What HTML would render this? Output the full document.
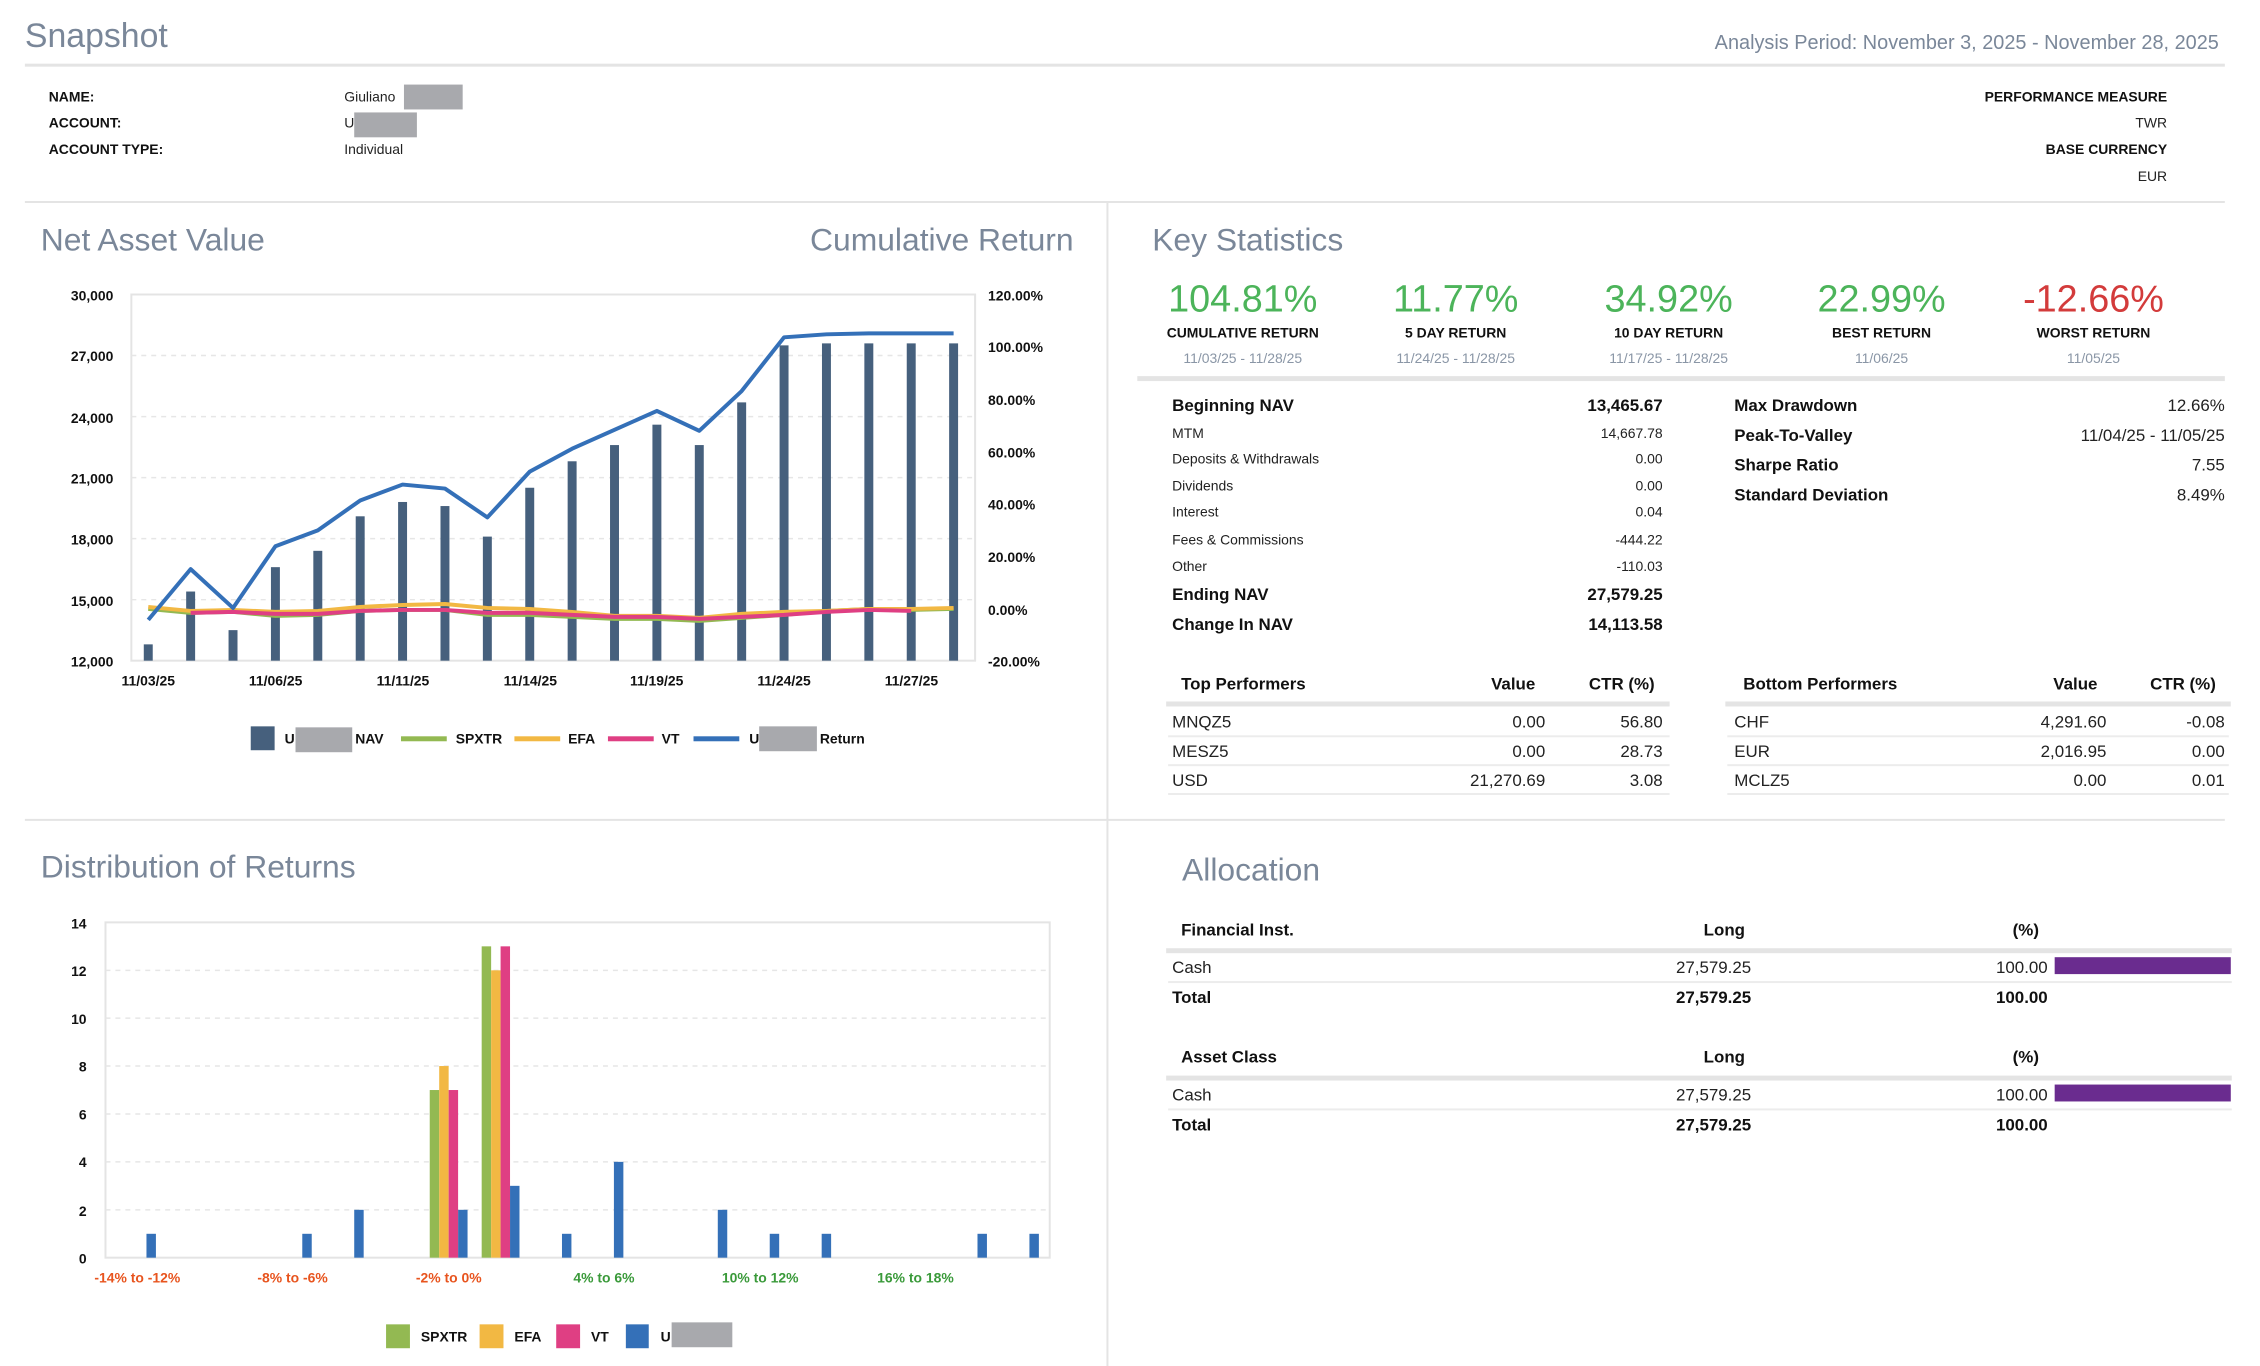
<!DOCTYPE html>
<html><head><meta charset="utf-8"><style>
html,body{margin:0;padding:0;background:#fff;}
svg{display:block;font-family:"Liberation Sans Narrow","Liberation Sans",sans-serif;}
.t{fill:#7a8799;}
.b{font-weight:bold;fill:#111;}
.n{fill:#222;}
</style></head><body>
<svg width="2260" height="1366" viewBox="0 0 2260 1366" xmlns="http://www.w3.org/2000/svg">
<g transform="scale(0.995)">
<!-- header -->
<text x="25" y="47" font-size="34" class="t">Snapshot</text>
<text x="2230" y="49" font-size="20" class="t" text-anchor="end">Analysis Period: November 3, 2025 - November 28, 2025</text>
<rect x="25" y="64" width="2211" height="3" fill="#e4e4e4"/>
<g font-size="14">
<text x="49" y="102" class="b">NAME:</text>
<text x="49" y="128" class="b">ACCOUNT:</text>
<text x="49" y="155" class="b">ACCOUNT TYPE:</text>
<text x="346" y="102" class="n">Giuliano</text>
<text x="346" y="128" class="n">U</text>
<text x="346" y="155" class="n">Individual</text>
<text x="2178" y="102" class="b" text-anchor="end">PERFORMANCE MEASURE</text>
<text x="2178" y="128" class="n" text-anchor="end">TWR</text>
<text x="2178" y="155" class="b" text-anchor="end">BASE CURRENCY</text>
<text x="2178" y="182" class="n" text-anchor="end">EUR</text>
</g>
<rect x="406" y="85" width="59" height="25" fill="#a8a9ad"/>
<rect x="356" y="113" width="63" height="25" fill="#a8a9ad"/>
<rect x="25" y="202" width="2211" height="2" fill="#e4e4e4"/>
<rect x="1112" y="204" width="2" height="1170" fill="#e4e4e4"/>
<rect x="25" y="823" width="2211" height="2" fill="#e4e4e4"/>

<!-- NAV chart -->
<text x="41" y="252" font-size="32" class="t">Net Asset Value</text>
<text x="1079" y="252" font-size="32" class="t" text-anchor="end">Cumulative Return</text>
<rect x="132" y="296" width="848" height="368" fill="none" stroke="#e4e4e4" stroke-width="2"/>
<g stroke="#e6e6e6" stroke-width="1.5" stroke-dasharray="5,5">
<line x1="132" y1="357.3" x2="980" y2="357.3"/><line x1="132" y1="418.7" x2="980" y2="418.7"/><line x1="132" y1="480" x2="980" y2="480"/><line x1="132" y1="541.3" x2="980" y2="541.3"/><line x1="132" y1="602.7" x2="980" y2="602.7"/>
</g>
<g font-size="14" class="b" text-anchor="end">
<text x="114" y="302">30,000</text><text x="114" y="363">27,000</text><text x="114" y="425">24,000</text><text x="114" y="486">21,000</text><text x="114" y="547">18,000</text><text x="114" y="609">15,000</text><text x="114" y="670">12,000</text>
</g>
<g font-size="14" class="b">
<text x="993" y="302">120.00%</text><text x="993" y="354">100.00%</text><text x="993" y="407">80.00%</text><text x="993" y="460">60.00%</text><text x="993" y="512">40.00%</text><text x="993" y="565">20.00%</text><text x="993" y="618">0.00%</text><text x="993" y="670">-20.00%</text>
</g>
<g font-size="14" class="b" text-anchor="middle">
<text x="149" y="689">11/03/25</text><text x="277" y="689">11/06/25</text><text x="405" y="689">11/11/25</text><text x="533" y="689">11/14/25</text><text x="660" y="689">11/19/25</text><text x="788" y="689">11/24/25</text><text x="916" y="689">11/27/25</text>
</g>
<g fill="#46607d">
<rect x="144.5" y="647.6" width="9" height="16.4"/><rect x="187.1" y="594.5" width="9" height="69.5"/><rect x="229.7" y="633.3" width="9" height="30.7"/><rect x="272.3" y="570" width="9" height="94"/><rect x="314.9" y="553.6" width="9" height="110.4"/><rect x="357.5" y="518.9" width="9" height="145.1"/><rect x="400.1" y="504.5" width="9" height="159.5"/><rect x="442.7" y="508.6" width="9" height="155.4"/><rect x="485.3" y="539.3" width="9" height="124.7"/><rect x="527.9" y="490.2" width="9" height="173.8"/><rect x="570.5" y="463.6" width="9" height="200.4"/><rect x="613.1" y="447.3" width="9" height="216.7"/><rect x="655.7" y="426.8" width="9" height="237.2"/><rect x="698.3" y="447.3" width="9" height="216.7"/><rect x="740.9" y="404.4" width="9" height="259.6"/><rect x="783.5" y="347.1" width="9" height="316.9"/><rect x="826.1" y="345.1" width="9" height="318.9"/><rect x="868.7" y="345.1" width="9" height="318.9"/><rect x="911.3" y="345.1" width="9" height="318.9"/><rect x="953.9" y="345.1" width="9" height="318.9"/>
</g>
<g fill="none" stroke-width="4" stroke-linejoin="round">
<polyline stroke="#93b952" points="149,612 191.6,616 234.2,615 276.8,619 319.4,618 362,614 404.6,613 447.2,613 489.8,618 532.4,618 575,620 617.6,622 660.2,622 702.8,624 745.4,621 788,618 830.6,614 873.2,612 915.8,613 958.4,612"/>
<polyline stroke="#f2b843" points="149,610 191.6,614 234.2,613 276.8,615 319.4,614 362,610 404.6,608 447.2,607 489.8,611 532.4,612 575,615 617.6,619 660.2,619 702.8,621 745.4,617 788,615 830.6,614 873.2,612 915.8,612 958.4,611"/>
<polyline stroke="#df3f83" points="191.6,616 234.2,615 276.8,617 319.4,617 362,614 404.6,613 447.2,613 489.8,616 532.4,616 575,618 617.6,620 660.2,620 702.8,622 745.4,620 788,618 830.6,615 873.2,613 915.8,614"/>
<polyline stroke="#3470b8" points="149,623 191.6,572 234.2,611 276.8,549 319.4,533 362,503 404.6,487 447.2,491 489.8,520 532.4,474 575,451 617.6,432 660.2,413 702.8,433 745.4,393 788,339 830.6,336 873.2,335 915.8,335 958.4,335"/>
</g>
<g font-size="14" class="b">
<rect x="252" y="730" width="24" height="24" fill="#46607d"/><text x="286" y="747">U</text><rect x="297" y="731" width="57" height="25" fill="#a8a9ad"/><text x="357" y="747">NAV</text>
<rect x="403" y="740" width="46" height="5" fill="#93b952"/><text x="458" y="747">SPXTR</text>
<rect x="517" y="740" width="46" height="5" fill="#f2b843"/><text x="571" y="747">EFA</text>
<rect x="611" y="740" width="46" height="5" fill="#df3f83"/><text x="665" y="747">VT</text>
<rect x="697" y="740" width="46" height="5" fill="#3470b8"/><text x="753" y="747">U</text><rect x="763" y="730" width="58" height="25" fill="#a8a9ad"/><text x="824" y="747">Return</text>
</g>

<!-- Key statistics -->
<text x="1158" y="252" font-size="32" class="t">Key Statistics</text>
<g font-size="38" text-anchor="middle" fill="#4cb45a">
<text x="1249" y="313">104.81%</text><text x="1463" y="313">11.77%</text><text x="1677" y="313">34.92%</text><text x="1891" y="313">22.99%</text><text x="2104" y="313" fill="#d33b3b">-12.66%</text>
</g>
<g font-size="14" class="b" text-anchor="middle">
<text x="1249" y="339">CUMULATIVE RETURN</text><text x="1463" y="339">5 DAY RETURN</text><text x="1677" y="339">10 DAY RETURN</text><text x="1891" y="339">BEST RETURN</text><text x="2104" y="339">WORST RETURN</text>
</g>
<g font-size="14" fill="#8a96a6" text-anchor="middle">
<text x="1249" y="365">11/03/25 - 11/28/25</text><text x="1463" y="365">11/24/25 - 11/28/25</text><text x="1677" y="365">11/17/25 - 11/28/25</text><text x="1891" y="365">11/06/25</text><text x="2104" y="365">11/05/25</text>
</g>
<rect x="1143" y="378" width="1093" height="5" fill="#e4e4e4"/>
<g font-size="17" class="b"><text x="1178" y="413">Beginning NAV</text><text x="1178" y="603">Ending NAV</text><text x="1178" y="633">Change In NAV</text>
<text x="1743" y="413">Max Drawdown</text><text x="1743" y="443">Peak-To-Valley</text><text x="1743" y="473">Sharpe Ratio</text><text x="1743" y="503">Standard Deviation</text></g>
<g font-size="14" class="n"><text x="1178" y="440">MTM</text><text x="1178" y="466">Deposits &amp; Withdrawals</text><text x="1178" y="493">Dividends</text><text x="1178" y="519">Interest</text><text x="1178" y="547">Fees &amp; Commissions</text><text x="1178" y="574">Other</text></g>
<g font-size="17" class="b" text-anchor="end"><text x="1671" y="413">13,465.67</text><text x="1671" y="603">27,579.25</text><text x="1671" y="633">14,113.58</text></g>
<g font-size="14" class="n" text-anchor="end"><text x="1671" y="440">14,667.78</text><text x="1671" y="466">0.00</text><text x="1671" y="493">0.00</text><text x="1671" y="519">0.04</text><text x="1671" y="547">-444.22</text><text x="1671" y="574">-110.03</text></g>
<g font-size="17" class="n" text-anchor="end"><text x="2236" y="413">12.66%</text><text x="2236" y="443">11/04/25 - 11/05/25</text><text x="2236" y="473">7.55</text><text x="2236" y="503">8.49%</text></g>

<g font-size="17" class="b"><text x="1187" y="693">Top Performers</text><text x="1543" y="693" text-anchor="end">Value</text><text x="1663" y="693" text-anchor="end">CTR (%)</text>
<text x="1752" y="693">Bottom Performers</text><text x="2108" y="693" text-anchor="end">Value</text><text x="2227" y="693" text-anchor="end">CTR (%)</text></g>
<rect x="1172" y="705" width="506" height="5" fill="#e4e4e4"/><rect x="1734" y="705" width="508" height="5" fill="#e4e4e4"/>
<g fill="#ececec"><rect x="1174" y="739" width="504" height="2"/><rect x="1174" y="768" width="504" height="2"/><rect x="1174" y="797" width="504" height="2"/><rect x="1736" y="739" width="504" height="2"/><rect x="1736" y="768" width="504" height="2"/><rect x="1736" y="797" width="504" height="2"/></g>
<g font-size="17" class="n">
<text x="1178" y="731">MNQZ5</text><text x="1178" y="761">MESZ5</text><text x="1178" y="790">USD</text>
<text x="1743" y="731">CHF</text><text x="1743" y="761">EUR</text><text x="1743" y="790">MCLZ5</text>
</g>
<g font-size="17" class="n" text-anchor="end">
<text x="1553" y="731">0.00</text><text x="1553" y="761">0.00</text><text x="1553" y="790">21,270.69</text>
<text x="1671" y="731">56.80</text><text x="1671" y="761">28.73</text><text x="1671" y="790">3.08</text>
<text x="2117" y="731">4,291.60</text><text x="2117" y="761">2,016.95</text><text x="2117" y="790">0.00</text>
<text x="2236" y="731">-0.08</text><text x="2236" y="761">0.00</text><text x="2236" y="790">0.01</text>
</g>

<!-- Distribution -->
<text x="41" y="882" font-size="32" class="t">Distribution of Returns</text>
<rect x="106" y="927" width="949" height="337" fill="none" stroke="#e4e4e4" stroke-width="2"/>
<g stroke="#e6e6e6" stroke-width="1.5" stroke-dasharray="5,5">
<line x1="106" y1="975.2" x2="1055" y2="975.2"/><line x1="106" y1="1023.3" x2="1055" y2="1023.3"/><line x1="106" y1="1071.4" x2="1055" y2="1071.4"/><line x1="106" y1="1119.6" x2="1055" y2="1119.6"/><line x1="106" y1="1167.7" x2="1055" y2="1167.7"/><line x1="106" y1="1215.9" x2="1055" y2="1215.9"/>
</g>
<g font-size="14" class="b" text-anchor="end">
<text x="87" y="933">14</text><text x="87" y="981">12</text><text x="87" y="1029">10</text><text x="87" y="1077">8</text><text x="87" y="1125">6</text><text x="87" y="1173">4</text><text x="87" y="1222">2</text><text x="87" y="1270">0</text>
</g>
<g fill="#3470b8">
<rect x="147.2" y="1240" width="9.5" height="24"/><rect x="303.8" y="1240" width="9.5" height="24"/><rect x="356" y="1215.9" width="9.5" height="48.1"/><rect x="460.4" y="1215.9" width="9.5" height="48.1"/><rect x="512.6" y="1191.8" width="9.5" height="72.2"/><rect x="564.8" y="1240" width="9.5" height="24"/><rect x="617" y="1167.7" width="9.5" height="96.3"/><rect x="721.4" y="1215.9" width="9.5" height="48.1"/><rect x="773.6" y="1240" width="9.5" height="24"/><rect x="825.8" y="1240" width="9.5" height="24"/><rect x="982.4" y="1240" width="9.5" height="24"/><rect x="1034.6" y="1240" width="9.5" height="24"/>
</g>
<rect x="431.9" y="1095.5" width="9.5" height="168.5" fill="#93b952"/><rect x="441.4" y="1071.4" width="9.5" height="192.6" fill="#f2b843"/><rect x="450.9" y="1095.5" width="9.5" height="168.5" fill="#df3f83"/>
<rect x="484.1" y="951.1" width="9.5" height="312.9" fill="#93b952"/><rect x="493.6" y="975.2" width="9.5" height="288.8" fill="#f2b843"/><rect x="503.1" y="951.1" width="9.5" height="312.9" fill="#df3f83"/>
<g font-size="14" font-weight="bold" text-anchor="middle">
<text x="138" y="1289" fill="#e8541e">-14% to -12%</text><text x="294" y="1289" fill="#e8541e">-8% to -6%</text><text x="451" y="1289" fill="#e8541e">-2% to 0%</text>
<text x="607" y="1289" fill="#3a9a3a">4% to 6%</text><text x="764" y="1289" fill="#3a9a3a">10% to 12%</text><text x="920" y="1289" fill="#3a9a3a">16% to 18%</text>
</g>
<g font-size="14" class="b">
<rect x="388" y="1331" width="24" height="24" fill="#93b952"/><text x="423" y="1348">SPXTR</text>
<rect x="482" y="1331" width="24" height="24" fill="#f2b843"/><text x="517" y="1348">EFA</text>
<rect x="559" y="1331" width="24" height="24" fill="#df3f83"/><text x="594" y="1348">VT</text>
<rect x="629" y="1331" width="23" height="24" fill="#3470b8"/><text x="664" y="1348">U</text><rect x="675" y="1329" width="61" height="25" fill="#a8a9ad"/>
</g>

<!-- Allocation -->
<text x="1188" y="885" font-size="32" class="t">Allocation</text>
<g font-size="17" class="b"><text x="1187" y="940">Financial Inst.</text><text x="1733" y="940" text-anchor="middle">Long</text><text x="2036" y="940" text-anchor="middle">(%)</text>
<text x="1187" y="1068">Asset Class</text><text x="1733" y="1068" text-anchor="middle">Long</text><text x="2036" y="1068" text-anchor="middle">(%)</text></g>
<rect x="1172" y="953" width="1071" height="5" fill="#e4e4e4"/><rect x="1172" y="1081" width="1071" height="5" fill="#e4e4e4"/>
<rect x="1174" y="986" width="1069" height="2" fill="#ececec"/><rect x="1174" y="1114" width="1069" height="2" fill="#ececec"/>
<rect x="2065" y="962" width="177" height="17" fill="#6a2c8f"/><rect x="2065" y="1090" width="177" height="17" fill="#6a2c8f"/>
<g font-size="17">
<text x="1178" y="978" class="n">Cash</text><text x="1760" y="978" class="n" text-anchor="end">27,579.25</text><text x="2058" y="978" class="n" text-anchor="end">100.00</text>
<text x="1178" y="1008" class="b">Total</text><text x="1760" y="1008" class="b" text-anchor="end">27,579.25</text><text x="2058" y="1008" class="b" text-anchor="end">100.00</text>
<text x="1178" y="1106" class="n">Cash</text><text x="1760" y="1106" class="n" text-anchor="end">27,579.25</text><text x="2058" y="1106" class="n" text-anchor="end">100.00</text>
<text x="1178" y="1136" class="b">Total</text><text x="1760" y="1136" class="b" text-anchor="end">27,579.25</text><text x="2058" y="1136" class="b" text-anchor="end">100.00</text>
</g>
</g>
</svg>
</body></html>
